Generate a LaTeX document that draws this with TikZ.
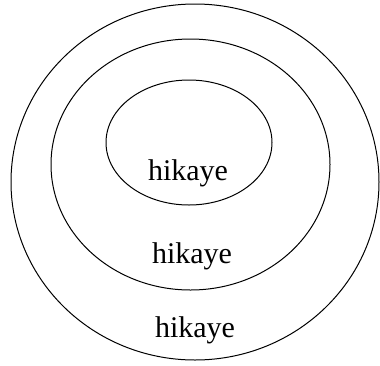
\documentclass[tikz,border=0pt]{standalone}
\usepackage{fontspec}
\setmainfont{Liberation Serif}
\usetikzlibrary{positioning, calc}

\begin{document}
\begin{tikzpicture}[x=1pt, y=-1pt, label/.style={anchor=base, inner sep=0pt, font=\fontsize{30}{33}\selectfont}]
        \useasboundingbox (0, 0) rectangle (380, 365);

        \draw[line width=1pt] (195, 182) ellipse (184 and 178);
        \draw[line width=1pt] (190.5, 164.5) ellipse (139.5 and 125.5);
        \draw[line width=1pt] (189, 142.5) ellipse (83 and 62.5);

        \node[label] (inner) at (188, 180) {hikaye};
        \node[label] (middle) at (192, 263) {hikaye};
        \node[label] (outer) at (195, 337) {hikaye};

      \end{tikzpicture}
\end{document}
